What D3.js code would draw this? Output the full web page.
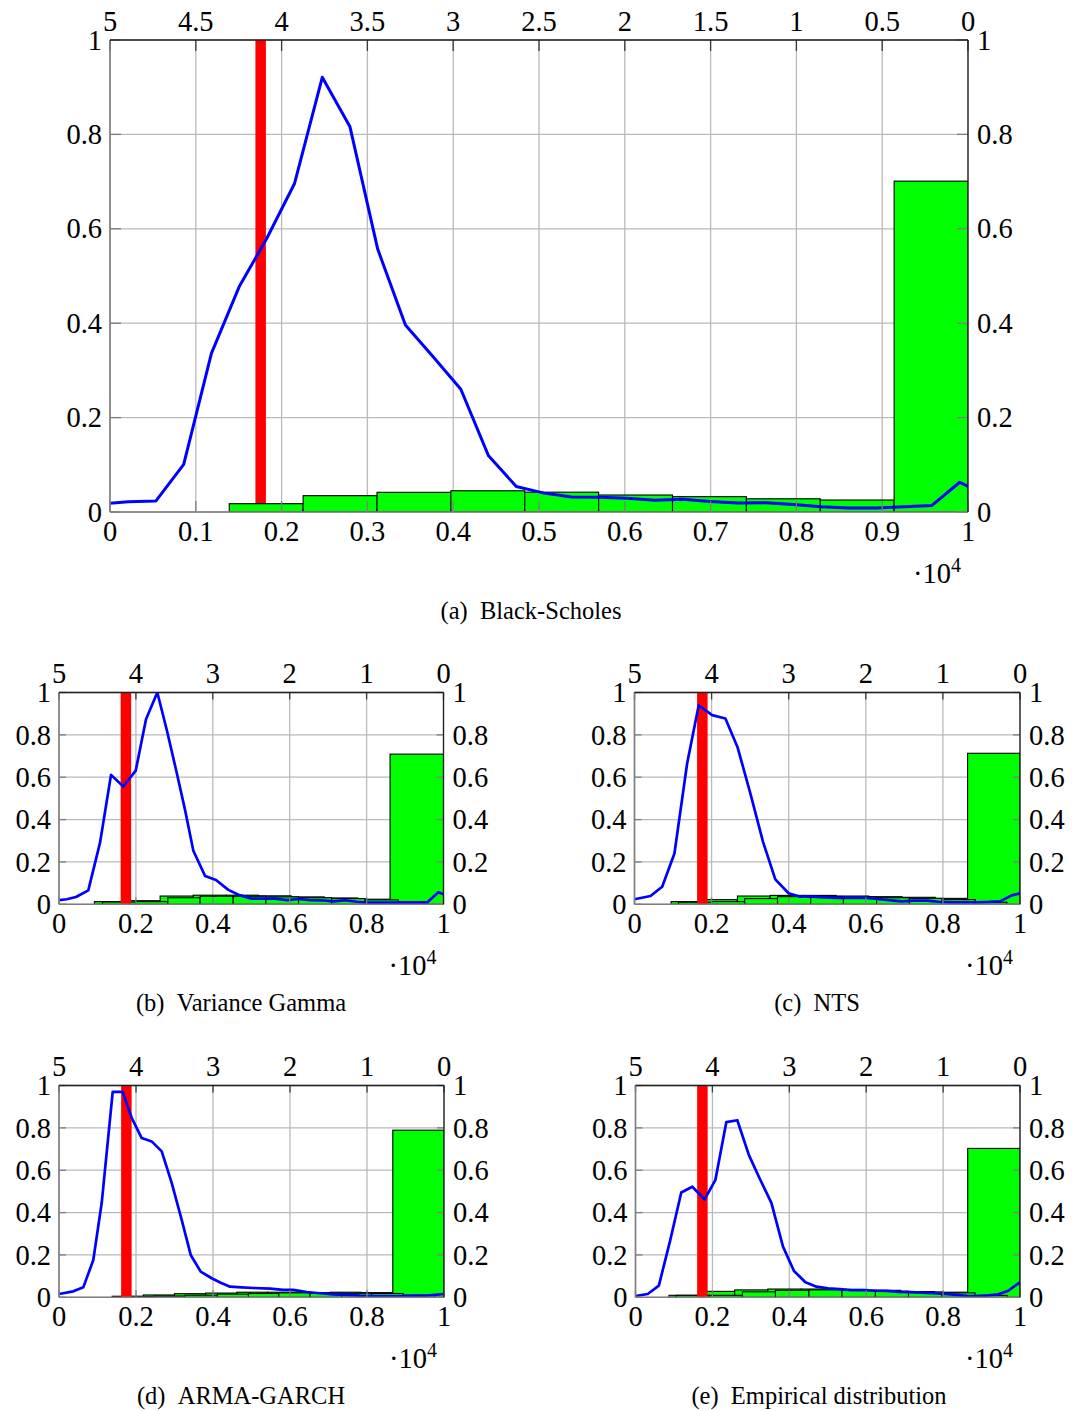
<!DOCTYPE html>
<html><head><meta charset="utf-8">
<script src="https://cdn.jsdelivr.net/npm/d3@7"></script>
<style>
body{margin:0;background:#fff}
text{font-family:"Liberation Serif","DejaVu Serif",serif;fill:#000}
</style>
</head><body>
<svg id="c" width="1072" height="1411"></svg>
<script>
// ---------- tick labels ----------
const yTicks = [0, 0.2, 0.4, 0.6, 0.8, 1];
const yTickLabels = ["0", "0.2", "0.4", "0.6", "0.8", "1"];
const xTicksBig = [0, 0.1, 0.2, 0.3, 0.4, 0.5, 0.6, 0.7, 0.8, 0.9, 1];
const xTickLabelsBig = ["0", "0.1", "0.2", "0.3", "0.4", "0.5", "0.6", "0.7", "0.8", "0.9", "1"];
const topTicksBig = [5, 4.5, 4, 3.5, 3, 2.5, 2, 1.5, 1, 0.5, 0];
const topTickLabelsBig = ["5", "4.5", "4", "3.5", "3", "2.5", "2", "1.5", "1", "0.5", "0"];
const xTicksSmall = [0, 0.2, 0.4, 0.6, 0.8, 1];
const xTickLabelsSmall = ["0", "0.2", "0.4", "0.6", "0.8", "1"];
const topTicksSmall = [5, 4, 3, 2, 1, 0];
const topTickLabelsSmall = ["5", "4", "3", "2", "1", "0"];
const captions = ["(a)\u2002Black-Scholes", "(b)\u2002Variance Gamma", "(c)\u2002NTS", "(d)\u2002ARMA-GARCH", "(e)\u2002Empirical distribution"];
const strikeX = [0.1756, 0.174, 0.176, 0.175, 0.174];

// ---------- (a) Black-Scholes ----------
const aHistEdges = [0.139, 0.2251, 0.3112, 0.3973, 0.4834, 0.5695, 0.6556, 0.7417, 0.8278, 0.9139, 1.0];
const aHistVals  = [0.0176, 0.0346, 0.0417, 0.045, 0.042, 0.036, 0.0325, 0.028, 0.0254, 0.701];
const aLineX = [0, 0.0213, 0.0536, 0.0859, 0.1182, 0.1505, 0.1828, 0.2151, 0.2474, 0.2797, 0.3120, 0.3443, 0.3766, 0.4089, 0.4412, 0.4735, 0.5058, 0.5381, 0.5704, 0.6027, 0.6350, 0.6673, 0.6996, 0.7319, 0.7642, 0.7965, 0.8288, 0.8611, 0.8934, 0.9257, 0.9580, 0.9903, 1.0];
const aLineY = [0.0185, 0.0215, 0.0235, 0.101, 0.336, 0.477, 0.58, 0.696, 0.921, 0.816, 0.557, 0.396, 0.329, 0.26, 0.119, 0.054, 0.040, 0.032, 0.031, 0.029, 0.025, 0.027, 0.022, 0.019, 0.0197, 0.016, 0.011, 0.0085, 0.0085, 0.011, 0.014, 0.063, 0.054];

// ---------- (b) Variance Gamma ----------
const bHistEdgesA = [0.092, 0.178, 0.263, 0.349, 0.435, 0.519, 0.604, 0.690, 0.777, 0.861, 1.0];
const bHistValsA  = [0.0126, 0.017, 0.039, 0.043, 0.043, 0.040, 0.035, 0.030, 0.024, 0.709];
const bHistEdgesB = [0.113, 0.199, 0.283, 0.367, 0.453, 0.538, 0.623, 0.709, 0.796, 0.882, 0.960];
const bHistValsB  = [0.011, 0.0126, 0.031, 0.038, 0.038, 0.035, 0.031, 0.027, 0.021, 0.012];
const bLineX = [0, 0.0200, 0.0442, 0.0762, 0.1067, 0.1353, 0.1673, 0.1995, 0.2263, 0.2557, 0.2802, 0.3044, 0.3278, 0.3494, 0.3798, 0.4084, 0.4404, 0.4709, 0.5013, 0.5315, 0.5619, 0.5924, 0.6225, 0.6530, 0.6834, 0.7136, 0.7440, 0.7745, 0.8046, 0.8350, 0.8650, 0.8960, 0.9260, 0.9566, 0.9867, 1.0];
const bLineY = [0.020, 0.024, 0.0345, 0.066, 0.291, 0.611, 0.556, 0.631, 0.874, 1.0, 0.824, 0.635, 0.446, 0.253, 0.134, 0.115, 0.068, 0.042, 0.027, 0.027, 0.027, 0.020, 0.025, 0.020, 0.019, 0.014, 0.019, 0.012, 0.0076, 0.0076, 0.0076, 0.0076, 0.0076, 0.0076, 0.057, 0.047];

// ---------- (c) NTS ----------
const cHistEdgesA = [0.095, 0.181, 0.267, 0.352, 0.438, 0.523, 0.608, 0.694, 0.780, 0.864, 1.0];
const cHistValsA  = [0.0126, 0.022, 0.039, 0.042, 0.042, 0.039, 0.036, 0.033, 0.028, 0.713];
const cHistEdgesB = [0.114, 0.200, 0.286, 0.371, 0.457, 0.542, 0.628, 0.713, 0.798, 0.884, 0.966];
const cHistValsB  = [0.010, 0.0126, 0.027, 0.036, 0.037, 0.034, 0.031, 0.028, 0.022, 0.010];
const cLineX = [0, 0.0415, 0.0718, 0.1036, 0.1365, 0.1666, 0.2013, 0.2358, 0.2676, 0.3005, 0.3334, 0.3653, 0.3997, 0.4301, 0.4604, 0.4904, 0.5251, 0.5596, 0.5940, 0.6288, 0.6588, 0.6935, 0.7236, 0.7583, 0.7883, 0.8231, 0.8531, 0.8878, 0.9179, 0.9482, 0.9785, 1.0];
const cLineY = [0.024, 0.039, 0.083, 0.24, 0.665, 0.94, 0.893, 0.877, 0.74, 0.524, 0.295, 0.118, 0.052, 0.036, 0.036, 0.033, 0.03, 0.03, 0.031, 0.025, 0.020, 0.014, 0.017, 0.017, 0.012, 0.0094, 0.0094, 0.0094, 0.011, 0.014, 0.042, 0.052];

// ---------- (d) ARMA-GARCH ----------
const dHistEdgesA = [0.138, 0.219, 0.300, 0.381, 0.462, 0.542, 0.626, 0.704, 0.784, 0.867, 1.0];
const dHistValsA  = [0.005, 0.011, 0.017, 0.020, 0.024, 0.024, 0.022, 0.024, 0.022, 0.789];
const dHistEdgesB = [0.165, 0.246, 0.327, 0.411, 0.492, 0.571, 0.652, 0.734, 0.812, 0.894, 0.975];
const dHistValsB  = [0.004, 0.006, 0.010, 0.015, 0.018, 0.021, 0.020, 0.019, 0.018, 0.010];
const dLineX = [0, 0.0371, 0.0631, 0.0891, 0.1109, 0.1395, 0.1655, 0.1888, 0.2148, 0.2408, 0.2668, 0.2927, 0.3187, 0.3421, 0.3681, 0.3966, 0.4200, 0.4442, 0.4745, 0.5047, 0.5481, 0.5826, 0.6086, 0.6434, 0.6779, 0.7125, 0.7473, 0.7818, 0.8164, 0.8512, 0.8857, 0.9203, 0.9551, 1.0];
const dLineY = [0.0155, 0.028, 0.047, 0.176, 0.445, 0.97, 0.97, 0.847, 0.752, 0.736, 0.689, 0.54, 0.366, 0.2, 0.121, 0.09, 0.069, 0.05, 0.047, 0.044, 0.041, 0.035, 0.035, 0.025, 0.019, 0.014, 0.011, 0.0076, 0.006, 0.006, 0.006, 0.0076, 0.0076, 0.0155];

// ---------- (e) Empirical distribution ----------
const eHistEdgesA = [0.087, 0.173, 0.258, 0.344, 0.431, 0.517, 0.604, 0.690, 0.777, 0.864, 1.0];
const eHistValsA  = [0.0094, 0.028, 0.035, 0.039, 0.039, 0.037, 0.033, 0.027, 0.024, 0.703];
const eHistEdgesB = [0.106, 0.192, 0.278, 0.364, 0.451, 0.537, 0.624, 0.710, 0.797, 0.883, 0.967];
const eHistValsB  = [0.0094, 0.0094, 0.026, 0.033, 0.035, 0.033, 0.029, 0.025, 0.021, 0.009];
const eLineX = [0, 0.032, 0.0607, 0.0904, 0.119, 0.1477, 0.1797, 0.2076, 0.2362, 0.2648, 0.295, 0.3229, 0.3534, 0.3836, 0.4122, 0.4419, 0.4706, 0.5008, 0.5313, 0.5617, 0.5919, 0.6224, 0.6529, 0.6831, 0.7135, 0.744, 0.7742, 0.8047, 0.8352, 0.8654, 0.8914, 0.9174, 0.9435, 0.9695, 1.0];
const eLineY = [0.006, 0.0155, 0.055, 0.27, 0.495, 0.522, 0.462, 0.553, 0.827, 0.836, 0.671, 0.561, 0.446, 0.239, 0.124, 0.071, 0.05, 0.042, 0.039, 0.034, 0.034, 0.031, 0.03, 0.026, 0.024, 0.022, 0.019, 0.0155, 0.011, 0.006, 0.006, 0.009, 0.014, 0.031, 0.071];

// ---------- layout ----------
const svg = d3.select("#c");
const zip = (xs, ys) => xs.map((x, i) => [x, ys[i]]);
const bins = (edges, vals) => vals.map((v, i) => ({x0: edges[i], x1: edges[i + 1], v}));

const panels = [
  {box: [110, 40, 968, 512], big: true, caption: [531, 611], redOnTop: false,
   hists: [bins(aHistEdges, aHistVals)], line: zip(aLineX, aLineY)},
  {box: [59, 692.5, 443.5, 904.3], big: false, caption: [241, 1003], redOnTop: true,
   hists: [bins(bHistEdgesA, bHistValsA), bins(bHistEdgesB, bHistValsB)], line: zip(bLineX, bLineY)},
  {box: [634.5, 692.5, 1020, 904.3], big: false, caption: [817, 1003], redOnTop: true,
   hists: [bins(cHistEdgesA, cHistValsA), bins(cHistEdgesB, cHistValsB)], line: zip(cLineX, cLineY)},
  {box: [59, 1085.5, 444, 1297.3], big: false, caption: [241, 1396], redOnTop: true,
   hists: [bins(dHistEdgesA, dHistValsA), bins(dHistEdgesB, dHistValsB)], line: zip(dLineX, dLineY)},
  {box: [635.5, 1085.5, 1020, 1297.3], big: false, caption: [819, 1396], redOnTop: true,
   hists: [bins(eHistEdgesA, eHistValsA), bins(eHistEdgesB, eHistValsB)], line: zip(eLineX, eLineY)}
];

const FS = 28.5;
panels.forEach((p, pi) => {
  const [L, T, R, B] = p.box;
  const x = d3.scaleLinear().domain([0, 1]).range([L, R]);
  const xTop = d3.scaleLinear().domain([5, 0]).range([L, R]);
  const y = d3.scaleLinear().domain([0, 1]).range([B, T]);
  const g = svg.append("g");
  const clipId = "clip" + pi;
  g.append("clipPath").attr("id", clipId).append("rect")
    .attr("x", L).attr("y", T).attr("width", R - L).attr("height", B - T);

  const xt = p.big ? xTicksBig : xTicksSmall;
  const xtl = p.big ? xTickLabelsBig : xTickLabelsSmall;
  const tt = p.big ? topTicksBig : topTicksSmall;
  const ttl = p.big ? topTickLabelsBig : topTickLabelsSmall;
  const tickLen = p.big ? 11 : 7;

  // grid
  const grid = g.append("g").attr("stroke", "#bababa").attr("stroke-width", 1.3);
  xt.forEach(v => grid.append("line").attr("x1", x(v)).attr("x2", x(v)).attr("y1", T).attr("y2", B));
  yTicks.forEach(v => grid.append("line").attr("x1", L).attr("x2", R).attr("y1", y(v)).attr("y2", y(v)));

  const plot = g.append("g").attr("clip-path", `url(#${clipId})`);
  const drawRed = () => plot.append("line")
    .attr("x1", x(strikeX[pi])).attr("x2", x(strikeX[pi]))
    .attr("y1", y(0)).attr("y2", y(1))
    .attr("stroke", "#ff0000").attr("stroke-width", 10.5);
  if (!p.redOnTop) drawRed();
  p.hists.forEach(h => {
    plot.append("g").selectAll("rect").data(h).join("rect")
      .attr("x", d => x(d.x0)).attr("width", d => x(d.x1) - x(d.x0))
      .attr("y", d => y(d.v)).attr("height", d => y(0) - y(d.v))
      .attr("fill", "#00ff00").attr("stroke", "#000").attr("stroke-width", 1.1);
  });
  if (p.redOnTop) drawRed();

  // ticks (inward)
  const tk = g.append("g").attr("stroke", "#7f7f7f").attr("stroke-width", 1.3);
  yTicks.forEach(v => {
    tk.append("line").attr("x1", L).attr("x2", L + tickLen).attr("y1", y(v)).attr("y2", y(v));
    tk.append("line").attr("x1", R).attr("x2", R - tickLen).attr("y1", y(v)).attr("y2", y(v));
  });
  xt.forEach(v => tk.append("line").attr("x1", x(v)).attr("x2", x(v)).attr("y1", B).attr("y2", B - tickLen));
  tt.forEach(v => tk.append("line").attr("x1", xTop(v)).attr("x2", xTop(v)).attr("y1", T).attr("y2", T + tickLen)
    .attr("stroke", "#3a3a3a"));

  // blue line
  plot.append("path").datum(p.line)
    .attr("d", d3.line().x(d => x(d[0])).y(d => y(d[1])))
    .attr("fill", "none").attr("stroke", "#0000ff").attr("stroke-width", p.big ? 3 : 2.7)
    .attr("stroke-linejoin", "round");

  // frame
  g.append("line").attr("x1", L).attr("x2", L).attr("y1", T).attr("y2", B).attr("stroke", "#7f7f7f").attr("stroke-width", 1.6);
  g.append("line").attr("x1", L).attr("x2", R).attr("y1", B).attr("y2", B).attr("stroke", "#7f7f7f").attr("stroke-width", 1.6);
  g.append("line").attr("x1", L).attr("x2", R).attr("y1", T).attr("y2", T).attr("stroke", "#202020").attr("stroke-width", 1.3);
  g.append("line").attr("x1", R).attr("x2", R).attr("y1", T).attr("y2", B).attr("stroke", "#202020").attr("stroke-width", 1.3);

  // labels
  const lab = g.append("g").attr("font-size", FS);
  yTicks.forEach((v, i) => {
    lab.append("text").attr("x", L - 8).attr("y", y(v)).attr("dy", "0.34em")
      .attr("text-anchor", "end").text(yTickLabels[i]);
    lab.append("text").attr("x", R + 9).attr("y", y(v)).attr("dy", "0.34em")
      .attr("text-anchor", "start").text(yTickLabels[i]);
  });
  xt.forEach((v, i) => lab.append("text").attr("x", x(v)).attr("y", B + 19).attr("dy", "0.34em")
    .attr("text-anchor", "middle").text(xtl[i]));
  tt.forEach((v, i) => lab.append("text").attr("x", xTop(v)).attr("y", T - 19).attr("dy", "0.34em")
    .attr("text-anchor", "middle").text(ttl[i]));
  const mult = lab.append("text").attr("x", R - 7).attr("y", B + 61).attr("dy", "0.34em").attr("text-anchor", "end");
  mult.append("tspan").text("\u00b710");
  mult.append("tspan").attr("font-size", FS * 0.7).attr("dy", "-0.55em").text("4");

  g.append("text").attr("x", p.caption[0]).attr("y", p.caption[1]).attr("dy", "0.34em")
    .attr("text-anchor", "middle").attr("font-size", 24.5).text(captions[pi]);
});
</script>
</body></html>
